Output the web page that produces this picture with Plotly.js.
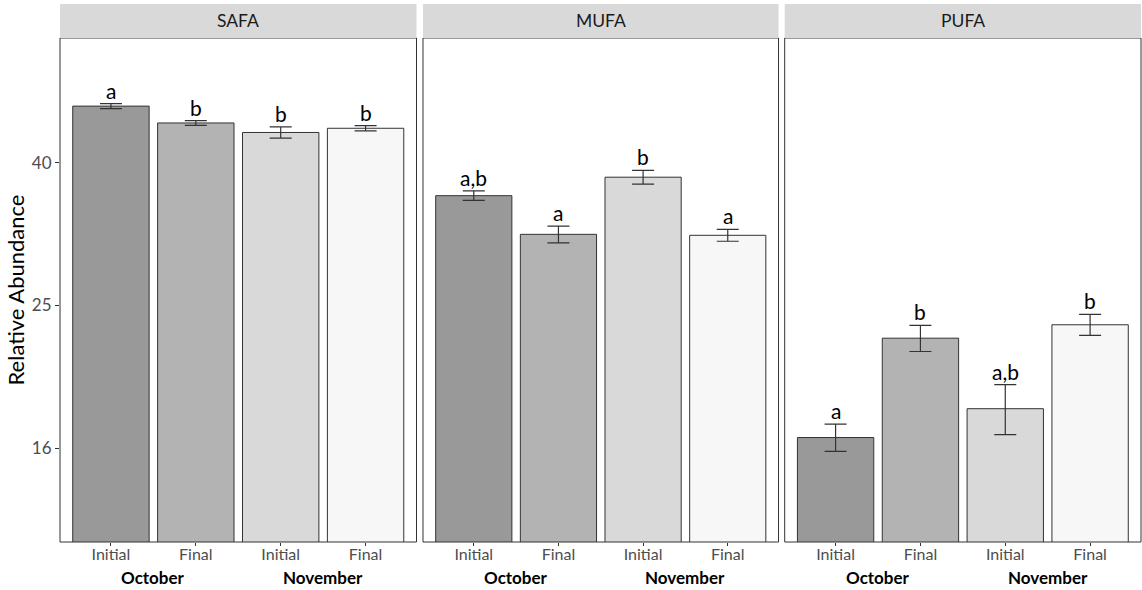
<!DOCTYPE html>
<html>
<head>
<meta charset="utf-8">
<script src="https://cdn.plot.ly/plotly-3.0.1.min.js"></script>
<style>html,body{margin:0;padding:0;background:#fff;}#chart{width:1142px;height:590px;}</style>
</head>
<body>
<div id="chart"></div>
<script>
// ---- data ----
const panels = ['SAFA', 'MUFA', 'PUFA'];
const timepoints = ['Initial', 'Final', 'Initial', 'Final'];
const months = ['October', 'November'];
const barColors = ['#999999', '#b3b3b3', '#d9d9d9', '#f7f7f7'];

const safaMean = [47.8, 45.27, 43.9, 44.5];
const safaSE   = [0.4, 0.35, 0.8, 0.37];
const safaLetters = ['a', 'b', 'b', 'b'];

const mufaMean = [35.8, 31.6, 38.0, 31.5];
const mufaSE   = [0.55, 0.85, 0.85, 0.6];
const mufaLetters = ['a,b', 'a', 'b', 'a'];

const pufaMean = [16.4, 22.6, 18.0, 23.6];
const pufaSE   = [0.72, 0.95, 1.45, 0.8];
const pufaLetters = ['a', 'b', 'a,b', 'b'];

const yTickVals = [Math.pow(10, 1.2), Math.pow(10, 1.4), Math.pow(10, 1.6)];
const yTickText = ['16', '25', '40'];

// ---- build ----
const means = [safaMean, mufaMean, pufaMean];
const ses = [safaSE, mufaSE, pufaSE];
const letters = [safaLetters, mufaLetters, pufaLetters];
const domains = [[0, 0.3298], [0.3358, 0.6647], [0.6704, 1.0]];
const FONT = 'Lato, "Open Sans", sans-serif';

const traces = [];
const annotations = [];
const shapes = [];
const layout = {
  width: 1142, height: 590,
  margin: {l: 60, r: 1, t: 38, b: 48},
  paper_bgcolor: '#ffffff', plot_bgcolor: '#ffffff',
  showlegend: false,
  font: {family: FONT, color: '#4d4d4d'},
  bargap: 0.1,
  yaxis: {
    type: 'log',
    range: [1.0684, 1.7749],
    tickvals: yTickVals, ticktext: yTickText,
    ticks: 'outside', ticklen: 4, tickcolor: '#333333', tickwidth: 1,
    tickfont: {family: FONT, size: 17, color: '#4d4d4d'},
    showgrid: false, zeroline: false, showline: false,
    anchor: 'x',
    title: {text: 'Relative Abundance', font: {family: FONT, size: 22, color: '#000000'}, standoff: 1}
  }
};

panels.forEach((p, i) => {
  const xa = i === 0 ? 'x' : 'x' + (i + 1);
  const xkey = i === 0 ? 'xaxis' : 'xaxis' + (i + 1);
  const xs = [0, 1, 2, 3];
  traces.push({
    type: 'bar', x: xs, y: means[i], xaxis: xa, yaxis: 'y',
    width: 0.9,
    marker: {color: barColors, line: {color: '#333333', width: 1}},
    error_y: {type: 'data', array: ses[i], visible: true, color: '#333333', thickness: 1.2, width: 11},
    hoverinfo: 'none'
  });
  layout[xkey] = {
    domain: domains[i], anchor: 'y',
    range: [-0.6, 3.6],
    tickvals: xs, ticktext: timepoints,
    ticks: 'outside', ticklen: 3, tickcolor: '#333333', tickwidth: 1,
    tickfont: {family: FONT, size: 16, color: '#4d4d4d'},
    ticklabelstandoff: -5,
    showgrid: false, zeroline: false, showline: false, fixedrange: true
  };
  // panel border
  shapes.push({type: 'rect', xref: xa + ' domain', yref: 'paper', x0: 0, x1: 1, y0: 0, y1: 1,
    line: {color: '#333333', width: 1}, fillcolor: 'rgba(0,0,0,0)', layer: 'above'});
  // strip
  shapes.push({type: 'rect', xref: xa + ' domain', yref: 'paper', x0: 0, x1: 1, y0: 1, y1: 1 + 34 / 504,
    line: {width: 0}, fillcolor: '#d9d9d9', layer: 'above'});
  annotations.push({xref: xa + ' domain', yref: 'paper', x: 0.5, y: 1 + 17 / 504, text: p,
    showarrow: false, xanchor: 'center', yanchor: 'middle', font: {family: FONT, size: 17.5, color: '#1a1a1a'}});
  // significance letters
  xs.forEach((x, j) => {
    annotations.push({xref: xa, yref: 'y', x: x, y: Math.log10(means[i][j] + ses[i][j]),
      text: letters[i][j], showarrow: false, xanchor: 'center', yanchor: 'bottom', yshift: -1,
      font: {family: FONT, size: 21, color: '#000000'}});
  });
  // month labels
  months.forEach((m, k) => {
    annotations.push({xref: xa, yref: 'paper', x: 0.5 + 2 * k, y: 0, yshift: -35, text: '<b>' + m + '</b>',
      showarrow: false, xanchor: 'center', yanchor: 'middle', font: {family: FONT, size: 17, color: '#000000'}});
  });
});

layout.annotations = annotations;
layout.shapes = shapes;

Plotly.newPlot('chart', traces, layout, {displayModeBar: false, staticPlot: true});
</script>
</body>
</html>
